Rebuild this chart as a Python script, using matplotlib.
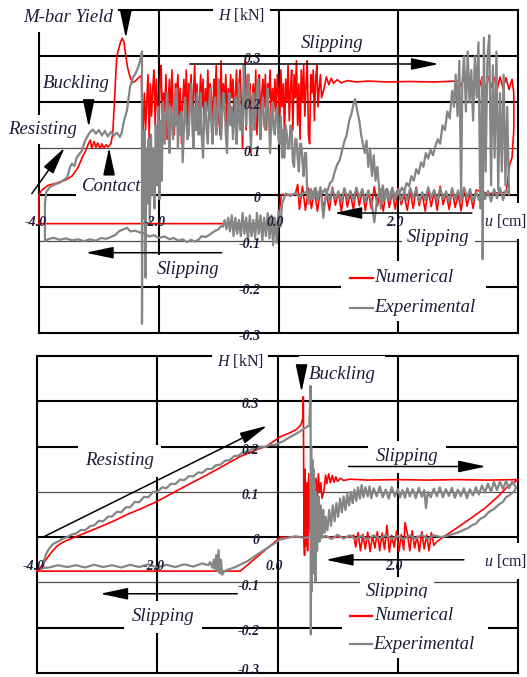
import numpy as np
import matplotlib
matplotlib.use("Agg")
import matplotlib.pyplot as plt
from matplotlib.patches import Rectangle

plt.rcParams["font.family"] = "Liberation Serif"
plt.rcParams["mathtext.fontset"] = "custom"
plt.rcParams["mathtext.it"] = "Liberation Serif:italic"
plt.rcParams["mathtext.rm"] = "Liberation Serif"

RED = "#ff0000"
GREY = "#858585"
INK = "#1c1c38"

X_TICKS = [-4.0, -2.0, 0.0, 2.0]
X_TICK_LABELS = ["-4.0", "-2.0", "0.0", "2.0"]
Y_TICKS = [0.3, 0.2, 0.1, 0.0, -0.1, -0.2, -0.3]
Y_TICK_LABELS = ["0.3", "0.2", "0.1", "0", "-0.1", "-0.2", "-0.3"]

# ---------------- top panel, numerical (u [cm], H [kN]) ----------------
TOP_NUM_LOAD = [
    (-4.00, -0.063), (-4.00, 0.000), (-3.95, 0.010), (-3.85, 0.020), (-3.70, 0.025),
    (-3.55, 0.032), (-3.45, 0.040), (-3.35, 0.058), (-3.28, 0.080), (-3.22, 0.095),
    (-3.17, 0.112), (-3.14, 0.118), (-3.12, 0.100), (-3.08, 0.115), (-3.05, 0.102),
    (-3.02, 0.112), (-2.98, 0.100), (-2.95, 0.110), (-2.92, 0.101), (-2.88, 0.108),
    (-2.85, 0.103), (-2.80, 0.110), (-2.77, 0.130), (-2.74, 0.200), (-2.72, 0.255),
    (-2.70, 0.300), (-2.67, 0.315), (-2.64, 0.330), (-2.61, 0.339), (-2.58, 0.330),
    (-2.55, 0.300), (-2.52, 0.275), (-2.48, 0.255), (-2.44, 0.243), (-2.40, 0.245),
    (-2.36, 0.250), (-2.32, 0.255), (-2.29, 0.258), (-2.27, 0.105),
]
TOP_NUM_NOISE = [
    (-2.24, 0.22), (-2.22, 0.14), (-2.20, 0.20), (-2.18, 0.26), (-2.16, 0.12),
    (-2.14, 0.24), (-2.12, 0.17), (-2.10, 0.23), (-2.08, 0.27), (-2.06, 0.15),
    (-2.04, 0.25), (-2.02, 0.19), (-2.00, 0.13), (-1.98, 0.24), (-1.96, 0.28),
    (-1.94, 0.16), (-1.92, 0.22), (-1.90, 0.18), (-1.88, 0.26), (-1.86, 0.12),
    (-1.84, 0.21), (-1.82, 0.25), (-1.80, 0.15), (-1.78, 0.27), (-1.76, 0.19),
    (-1.74, 0.13), (-1.72, 0.24), (-1.70, 0.22), (-1.68, 0.26), (-1.66, 0.16),
    (-1.64, 0.23), (-1.62, 0.11), (-1.60, 0.20), (-1.58, 0.25), (-1.56, 0.18),
    (-1.54, 0.27), (-1.52, 0.14), (-1.50, 0.24), (-1.48, 0.21), (-1.46, 0.26),
    (-1.44, 0.15), (-1.42, 0.22), (-1.40, 0.28), (-1.38, 0.17), (-1.36, 0.24),
    (-1.34, 0.13), (-1.32, 0.20), (-1.30, 0.26), (-1.28, 0.19), (-1.26, 0.25),
    (-1.24, 0.14), (-1.22, 0.23), (-1.20, 0.18), (-1.18, 0.27), (-1.16, 0.16),
    (-1.14, 0.24), (-1.12, 0.21), (-1.10, 0.12), (-1.08, 0.25), (-1.06, 0.20),
    (-1.04, 0.28), (-1.02, 0.15), (-1.00, 0.22), (-0.98, 0.13), (-0.96, 0.29),
    (-0.94, 0.18), (-0.92, 0.24), (-0.90, 0.20), (-0.88, 0.26), (-0.86, 0.14),
    (-0.84, 0.23), (-0.82, 0.17), (-0.80, 0.26), (-0.78, 0.21), (-0.76, 0.25),
    (-0.74, 0.15), (-0.72, 0.22), (-0.70, 0.27), (-0.68, 0.16), (-0.66, 0.24),
    (-0.64, 0.27), (-0.62, 0.19), (-0.60, 0.10), (-0.58, 0.23), (-0.56, 0.29),
    (-0.54, 0.14), (-0.52, 0.26), (-0.50, 0.20), (-0.48, 0.24), (-0.46, 0.09),
    (-0.44, 0.21), (-0.42, 0.24), (-0.40, 0.17), (-0.38, 0.27), (-0.36, 0.13),
    (-0.34, 0.23), (-0.32, 0.26), (-0.30, 0.15), (-0.28, 0.22), (-0.26, 0.25),
    (-0.24, 0.19), (-0.22, 0.26), (-0.20, 0.14), (-0.18, 0.24), (-0.16, 0.21),
    (-0.14, 0.27), (-0.12, 0.16), (-0.10, 0.23), (-0.08, 0.18), (-0.06, 0.25),
    (-0.04, 0.17), (-0.02, 0.26), (0.00, 0.22), (0.02, 0.15), (0.04, 0.27),
    (0.06, 0.19), (0.08, 0.24), (0.10, 0.13), (0.12, 0.25), (0.14, 0.20),
    (0.16, 0.28), (0.18, 0.16), (0.20, 0.23), (0.22, 0.27), (0.24, 0.14),
    (0.26, 0.26), (0.28, 0.21), (0.30, 0.29), (0.32, 0.15), (0.34, 0.24),
    (0.36, 0.12), (0.38, 0.27), (0.40, 0.20), (0.42, 0.28), (0.44, 0.17),
    (0.46, 0.24), (0.48, 0.29), (0.50, 0.13), (0.52, 0.11), (0.54, 0.26),
    (0.56, 0.22), (0.58, 0.27), (0.60, 0.16), (0.62, 0.25), (0.64, 0.28),
    (0.66, 0.19), (0.68, 0.23), (0.70, 0.26), (0.72, 0.21),
    (0.76, 0.23), (0.80, 0.255), (0.84, 0.238), (0.88, 0.252), (0.92, 0.241),
    (0.98, 0.249), (1.05, 0.242), (1.15, 0.247), (1.30, 0.244), (1.50, 0.246),
    (1.80, 0.244), (2.20, 0.245), (2.60, 0.244), (3.00, 0.246),
]
TOP_NUM_END = [
    (3.05, 0.235), (3.10, 0.255), (3.15, 0.232), (3.20, 0.254), (3.25, 0.236),
    (3.30, 0.252), (3.35, 0.230), (3.40, 0.255), (3.45, 0.228), (3.50, 0.256),
    (3.55, 0.232), (3.60, 0.254), (3.65, 0.226), (3.70, 0.255), (3.75, 0.230),
    (3.80, 0.253), (3.85, 0.228), (3.90, 0.250), (3.93, 0.220), (3.93, 0.140),
    (3.90, 0.080), (3.86, 0.065), (3.83, 0.030), (3.80, 0.005), (3.50, 0.002),
]
TOP_NUM_BACK = [
    (3.30, 0.010), (3.25, -0.030), (3.20, 0.005), (3.15, -0.025), (3.10, 0.015),
    (3.05, -0.035), (3.00, 0.000), (2.95, -0.028), (2.90, 0.012), (2.85, -0.032),
    (2.80, 0.004), (2.75, -0.022), (2.70, 0.018), (2.65, -0.034), (2.60, 0.006),
    (2.55, -0.026), (2.50, 0.010), (2.45, -0.036), (2.40, 0.002), (2.35, -0.024),
    (2.30, 0.016), (2.25, -0.030), (2.20, 0.008), (2.15, -0.034), (2.10, 0.000),
    (2.05, -0.022), (2.00, 0.014), (1.95, -0.032), (1.90, 0.006), (1.85, -0.028),
    (1.80, 0.012), (1.75, -0.036), (1.70, 0.003), (1.65, -0.025), (1.60, 0.017),
    (1.55, -0.031), (1.50, 0.007), (1.45, -0.035), (1.40, 0.011), (1.35, -0.024),
    (1.30, 0.015), (1.25, -0.033), (1.20, 0.004), (1.15, -0.027), (1.10, 0.013),
    (1.05, -0.037), (1.00, 0.006), (0.95, -0.023), (0.90, 0.016), (0.85, -0.034),
    (0.80, 0.002), (0.75, -0.029), (0.70, 0.012), (0.65, -0.036), (0.60, 0.008),
    (0.55, -0.030), (0.50, 0.014), (0.45, -0.034), (0.40, 0.018), (0.35, -0.032),
    (0.32, 0.022), (0.28, 0.000), (0.05, 0.000), (0.01, -0.040), (-0.01, -0.063),
    (-4.00, -0.063),
]

# ---------------- top panel, experimental ----------------
TOP_EXP_LOAD = [
    (-3.90, -0.100), (-3.90, -0.020), (-3.88, 0.005), (-3.82, 0.016), (-3.74, 0.022),
    (-3.65, 0.026), (-3.53, 0.037), (-3.48, 0.060), (-3.45, 0.067), (-3.41, 0.062),
    (-3.37, 0.080), (-3.28, 0.096), (-3.23, 0.117), (-3.15, 0.135), (-3.10, 0.141),
    (-3.05, 0.132), (-3.00, 0.140), (-2.95, 0.128), (-2.90, 0.138), (-2.85, 0.126),
    (-2.80, 0.136), (-2.75, 0.128), (-2.70, 0.134), (-2.65, 0.125), (-2.62, 0.133),
    (-2.58, 0.160), (-2.53, 0.183), (-2.48, 0.233), (-2.43, 0.254), (-2.39, 0.262),
    (-2.35, 0.274), (-2.31, 0.290), (-2.28, 0.310),
]
TOP_EXP_NOISE = [
    (-2.28, -0.28), (-2.27, 0.12), (-2.25, -0.05), (-2.24, 0.14), (-2.22, -0.18),
    (-2.21, 0.10), (-2.19, -0.02), (-2.17, 0.12), (-2.15, -0.06), (-2.13, 0.13),
    (-2.11, 0.00), (-2.09, 0.10), (-2.07, -0.03), (-2.05, 0.15), (-2.03, 0.02),
    (-2.01, 0.19), (-1.99, -0.01), (-1.97, 0.16), (-1.95, 0.03), (-1.93, 0.20),
    (-1.90, 0.11), (-1.88, 0.18), (-1.86, 0.22), (-1.84, 0.14), (-1.82, 0.09),
    (-1.80, 0.19), (-1.78, 0.16), (-1.76, 0.12), (-1.74, 0.21), (-1.72, 0.15),
    (-1.70, 0.23), (-1.68, 0.10), (-1.66, 0.17), (-1.64, 0.13), (-1.62, 0.18),
    (-1.60, 0.07), (-1.58, 0.14), (-1.56, 0.21), (-1.54, 0.16), (-1.52, 0.12),
    (-1.50, 0.13), (-1.48, 0.20), (-1.46, 0.24), (-1.44, 0.15), (-1.42, 0.10),
    (-1.40, 0.19), (-1.38, 0.14), (-1.36, 0.22), (-1.34, 0.17), (-1.32, 0.13),
    (-1.30, 0.22), (-1.28, 0.12), (-1.26, 0.08), (-1.24, 0.17), (-1.22, 0.20),
    (-1.20, 0.14), (-1.18, 0.11), (-1.16, 0.19), (-1.14, 0.23), (-1.12, 0.15),
    (-1.10, 0.11), (-1.08, 0.18), (-1.06, 0.21), (-1.04, 0.13), (-1.02, 0.16),
    (-1.00, 0.25), (-0.98, 0.19), (-0.96, 0.12), (-0.94, 0.17), (-0.92, 0.22),
    (-0.90, 0.20), (-0.88, 0.13), (-0.86, 0.09), (-0.84, 0.18), (-0.82, 0.22),
    (-0.80, 0.15), (-0.78, 0.19), (-0.76, 0.12), (-0.74, 0.16), (-0.72, 0.21),
    (-0.70, 0.11), (-0.68, 0.17), (-0.66, 0.24), (-0.64, 0.14), (-0.62, 0.19),
    (-0.60, 0.13), (-0.58, 0.28), (-0.56, 0.20), (-0.54, 0.15), (-0.52, 0.23),
    (-0.50, 0.26), (-0.48, 0.17), (-0.46, 0.10), (-0.44, 0.19), (-0.42, 0.22),
    (-0.40, 0.14), (-0.38, 0.18), (-0.36, 0.23), (-0.34, 0.25), (-0.32, 0.16),
    (-0.30, 0.12), (-0.28, 0.19), (-0.26, 0.21), (-0.24, 0.15), (-0.22, 0.14),
    (-0.20, 0.20), (-0.18, 0.23), (-0.16, 0.17), (-0.14, 0.09), (-0.12, 0.16),
    (-0.10, 0.20), (-0.08, 0.14), (-0.06, 0.13), (-0.04, 0.18), (-0.02, 0.19),
    (0.00, 0.12), (0.02, 0.11), (0.04, 0.17), (0.06, 0.08), (0.08, 0.14),
    (0.10, 0.08), (0.12, 0.15), (0.14, 0.13), (0.16, 0.10), (0.18, 0.10),
    (0.20, 0.15), (0.22, 0.14), (0.24, 0.07), (0.26, 0.06), (0.28, 0.12),
    (0.30, 0.12), (0.32, 0.08), (0.34, 0.05), (0.36, 0.11), (0.38, 0.11),
    (0.40, 0.07), (0.42, 0.04), (0.44, 0.09), (0.46, 0.09),
    (0.48, 0.00), (0.50, -0.02),
]
TOP_EXP_FORWARD = [
    (0.54, 0.012), (0.58, -0.010), (0.62, 0.015), (0.66, -0.008), (0.70, 0.010),
    (0.74, 0.004), (0.78, 0.012), (0.82, 0.008), (0.86, 0.025), (0.90, 0.030),
    (0.94, 0.050), (0.98, 0.065), (1.02, 0.074), (1.06, 0.095), (1.10, 0.115),
    (1.14, 0.130), (1.18, 0.160), (1.22, 0.176), (1.26, 0.200), (1.28, 0.207),
    (1.31, 0.185), (1.35, 0.160), (1.38, 0.130), (1.41, 0.110), (1.44, 0.090),
    (1.47, 0.117), (1.50, 0.060), (1.53, 0.100), (1.56, 0.040), (1.59, 0.085),
    (1.62, 0.030), (1.65, 0.060), (1.68, 0.015), (1.71, -0.030), (1.74, 0.020),
    (1.78, -0.010), (1.82, 0.012), (1.86, -0.008), (1.90, 0.010), (1.94, -0.012),
    (1.98, 0.008), (2.02, 0.002), (2.06, 0.015), (2.10, 0.008), (2.14, 0.025),
    (2.18, 0.018), (2.22, 0.040), (2.26, 0.030), (2.30, 0.055), (2.34, 0.045),
    (2.38, 0.070), (2.42, 0.060), (2.46, 0.090), (2.50, 0.078), (2.54, 0.098),
    (2.58, 0.085), (2.62, 0.105), (2.66, 0.120), (2.70, 0.110), (2.74, 0.150),
    (2.78, 0.140), (2.82, 0.180), (2.86, 0.165), (2.90, 0.225), (2.93, 0.190),
    (2.96, 0.260), (2.99, 0.170), (3.02, 0.290), (3.05, 0.000), (3.07, 0.240),
    (3.10, 0.300), (3.13, 0.180), (3.16, 0.310), (3.19, 0.200), (3.22, 0.270),
    (3.25, 0.160), (3.28, 0.300), (3.31, 0.210), (3.34, 0.330), (3.37, -0.030),
    (3.40, 0.250), (3.41, -0.140), (3.43, 0.340), (3.46, 0.050), (3.49, 0.300),
    (3.52, 0.345), (3.55, 0.020), (3.58, 0.280), (3.61, 0.080), (3.64, 0.310),
    (3.67, 0.010), (3.70, 0.220), (3.73, 0.050), (3.76, 0.260), (3.79, 0.020),
    (3.82, 0.190), (3.85, 0.000),
]
TOP_EXP_BACK = [
    (3.80, 0.010), (3.75, -0.012), (3.70, 0.014), (3.65, -0.008), (3.60, 0.012),
    (3.55, -0.015), (3.50, 0.008), (3.45, -0.010), (3.40, 0.016), (3.35, -0.012),
    (3.30, 0.006), (3.25, -0.016), (3.20, 0.012), (3.15, -0.006), (3.10, 0.015),
    (3.05, -0.013), (3.00, 0.009), (2.95, -0.010), (2.90, 0.014), (2.85, -0.015),
    (2.80, 0.007), (2.75, -0.009), (2.70, 0.013), (2.65, -0.014), (2.60, 0.010),
    (2.55, -0.008), (2.50, 0.016), (2.45, -0.012), (2.40, 0.005), (2.35, -0.016),
    (2.30, 0.012), (2.25, -0.007), (2.20, 0.014), (2.15, -0.012), (2.10, 0.008),
    (2.05, -0.014), (2.00, 0.011), (1.95, -0.009), (1.90, 0.015), (1.85, -0.013),
    (1.80, 0.006), (1.75, -0.015), (1.70, 0.012), (1.65, -0.008), (1.60, -0.060),
    (1.55, -0.012), (1.50, 0.009), (1.45, -0.016), (1.40, 0.012), (1.35, -0.006),
    (1.30, 0.015), (1.25, -0.013), (1.20, 0.008), (1.15, -0.010), (1.10, 0.014),
    (1.05, -0.015), (1.00, 0.007), (0.95, -0.009), (0.90, 0.013), (0.85, -0.014),
    (0.80, 0.010), (0.75, -0.050), (0.70, 0.016), (0.65, -0.012), (0.60, 0.012),
    (0.55, -0.010), (0.50, 0.006), (0.42, 0.004), (0.35, -0.004), (0.28, 0.003),
    (0.20, -0.003), (0.12, 0.002), (0.06, -0.020),
]
TOP_EXP_SLIP = [
    (0.03, -0.070), (0.00, -0.035), (-0.03, -0.105), (-0.06, -0.050), (-0.09, -0.110),
    (-0.12, -0.045), (-0.15, -0.095), (-0.18, -0.040), (-0.21, -0.090), (-0.24, -0.050),
    (-0.27, -0.100), (-0.30, -0.045), (-0.33, -0.085), (-0.36, -0.040), (-0.39, -0.095),
    (-0.42, -0.055), (-0.45, -0.090), (-0.48, -0.045), (-0.51, -0.100), (-0.54, -0.050),
    (-0.57, -0.085), (-0.60, -0.040), (-0.63, -0.090), (-0.66, -0.055), (-0.69, -0.085),
    (-0.72, -0.050), (-0.75, -0.090), (-0.78, -0.045), (-0.81, -0.080), (-0.84, -0.050),
    (-0.87, -0.075), (-0.90, -0.055), (-0.93, -0.070), (-0.96, -0.068), (-1.00, -0.075),
    (-1.05, -0.078), (-1.10, -0.082), (-1.16, -0.088), (-1.22, -0.092), (-1.28, -0.090),
    (-1.34, -0.098), (-1.40, -0.102), (-1.46, -0.098), (-1.53, -0.103), (-1.60, -0.097),
    (-1.67, -0.100), (-1.75, -0.094), (-1.82, -0.097), (-1.90, -0.091), (-2.00, -0.094),
    (-2.08, -0.088), (-2.16, -0.091), (-2.24, -0.084), (-2.32, -0.082), (-2.40, -0.078),
    (-2.47, -0.080), (-2.53, -0.072), (-2.60, -0.076), (-2.66, -0.079), (-2.72, -0.087),
    (-2.80, -0.092), (-2.88, -0.096), (-2.96, -0.094), (-3.05, -0.100), (-3.15, -0.097),
    (-3.25, -0.101), (-3.35, -0.097), (-3.45, -0.099), (-3.55, -0.095), (-3.65, -0.098),
    (-3.75, -0.094), (-3.83, -0.096), (-3.90, -0.100),
]

# ---------------- bottom panel, numerical ----------------
BOT_NUM_LOAD = [
    (-4.00, -0.075), (-3.95, -0.068), (-3.88, -0.055), (-3.83, -0.046), (-3.75, -0.032),
    (-3.67, -0.020), (-3.58, -0.012), (-3.50, -0.007), (-3.37, 0.000), (-3.20, 0.009),
    (-3.00, 0.020), (-2.75, 0.034), (-2.50, 0.050), (-2.25, 0.064), (-2.00, 0.079),
    (-1.75, 0.097), (-1.50, 0.115), (-1.25, 0.132), (-1.00, 0.150), (-0.80, 0.165),
    (-0.62, 0.178), (-0.40, 0.190), (-0.17, 0.202), (0.05, 0.222), (0.20, 0.230),
    (0.32, 0.238), (0.39, 0.248), (0.42, 0.262), (0.43, 0.310), (0.44, 0.000),
]
BOT_NUM_NOISE = [
    (0.45, -0.040), (0.46, 0.150), (0.47, -0.020), (0.49, 0.120), (0.50, -0.030),
    (0.52, 0.140), (0.54, 0.010), (0.56, 0.130), (0.58, 0.030), (0.60, 0.145),
    (0.62, 0.060), (0.64, 0.130), (0.66, 0.080), (0.68, 0.140), (0.70, 0.100),
    (0.72, 0.120), (0.74, 0.086), (0.77, 0.100), (0.80, 0.137), (0.82, 0.118),
    (0.85, 0.140), (0.88, 0.120), (0.91, 0.136), (0.94, 0.121), (0.97, 0.133),
    (1.00, 0.123), (1.05, 0.130), (1.10, 0.125), (1.20, 0.128), (1.50, 0.126),
    (2.00, 0.127), (2.50, 0.126), (3.00, 0.127), (3.50, 0.126), (4.00, 0.127),
]
BOT_NUM_BACK = [
    (3.83, 0.112), (3.67, 0.090), (3.45, 0.064), (3.22, 0.042), (2.98, 0.020),
    (2.80, 0.004), (2.65, -0.010), (2.60, -0.018), (2.56, 0.010), (2.52, -0.030),
    (2.48, 0.005), (2.44, -0.026), (2.40, 0.012), (2.36, -0.032), (2.32, 0.002),
    (2.28, -0.024), (2.24, 0.014), (2.20, -0.030), (2.16, 0.008), (2.12, 0.032),
    (2.10, -0.028), (2.06, 0.006), (2.02, -0.031), (1.98, 0.013), (1.94, -0.022),
    (1.90, 0.004), (1.86, -0.033), (1.82, 0.026), (1.78, -0.027), (1.74, 0.009),
    (1.70, -0.030), (1.66, 0.012), (1.62, -0.024), (1.58, 0.003), (1.54, -0.032),
    (1.50, 0.011), (1.46, -0.026), (1.42, 0.006), (1.38, -0.030), (1.34, 0.010),
    (1.30, -0.022), (1.27, 0.004), (1.20, 0.000), (0.05, 0.000), (-0.62, -0.075),
    (-4.00, -0.075),
]

# ---------------- bottom panel, experimental ----------------
BOT_EXP_LOAD = [
    (-3.90, -0.068), (-3.88, -0.050), (-3.85, -0.038), (-3.82, -0.030), (-3.78, -0.022),
    (-3.72, -0.014), (-3.65, -0.010), (-3.58, -0.004), (-3.50, 0.000), (-3.42, 0.006),
    (-3.35, 0.008), (-3.27, 0.016), (-3.20, 0.015), (-3.12, 0.024), (-3.05, 0.026),
    (-2.97, 0.036), (-2.90, 0.035), (-2.82, 0.045), (-2.75, 0.046), (-2.67, 0.056),
    (-2.60, 0.055), (-2.52, 0.066), (-2.45, 0.066), (-2.37, 0.078), (-2.30, 0.077),
    (-2.22, 0.089), (-2.15, 0.088), (-2.07, 0.100), (-2.00, 0.100), (-1.92, 0.110),
    (-1.85, 0.108), (-1.77, 0.118), (-1.70, 0.117), (-1.62, 0.127), (-1.55, 0.126),
    (-1.47, 0.135), (-1.40, 0.134), (-1.32, 0.143), (-1.25, 0.142), (-1.17, 0.151),
    (-1.10, 0.150), (-1.02, 0.159), (-0.95, 0.160), (-0.87, 0.169), (-0.80, 0.170),
    (-0.72, 0.179), (-0.65, 0.180), (-0.57, 0.188), (-0.50, 0.188), (-0.42, 0.195),
    (-0.35, 0.194), (-0.27, 0.200), (-0.20, 0.199), (-0.12, 0.204), (-0.05, 0.203),
    (0.03, 0.208), (0.10, 0.212), (0.18, 0.219), (0.25, 0.224), (0.32, 0.229),
    (0.40, 0.236), (0.47, 0.242), (0.53, 0.247), (0.55, 0.334),
]
BOT_EXP_NOISE = [
    (0.555, -0.215), (0.56, 0.200), (0.57, -0.120), (0.58, 0.170), (0.59, -0.080),
    (0.60, 0.150), (0.61, -0.050), (0.62, 0.120), (0.63, -0.100), (0.64, 0.100),
    (0.66, -0.030), (0.68, 0.090), (0.70, -0.010), (0.72, 0.070), (0.74, 0.000),
    (0.76, 0.060), (0.78, 0.010), (0.80, 0.045), (0.83, 0.015), (0.86, 0.060),
    (0.89, 0.025), (0.92, 0.070), (0.95, 0.035), (0.98, 0.075), (1.01, 0.045),
    (1.04, 0.085), (1.07, 0.055), (1.10, 0.090), (1.13, 0.060), (1.16, 0.095),
    (1.19, 0.070), (1.22, 0.100), (1.25, 0.075), (1.28, 0.105), (1.31, 0.080),
    (1.34, 0.110), (1.37, 0.085), (1.40, 0.115), (1.43, 0.088), (1.46, 0.110),
    (1.50, 0.090), (1.53, 0.112), (1.56, 0.086), (1.60, 0.108), (1.65, 0.090),
    (1.70, 0.112), (1.75, 0.088), (1.80, 0.105), (1.85, 0.085), (1.90, 0.110),
    (1.95, 0.090), (2.00, 0.106), (2.04, 0.088), (2.08, 0.104), (2.12, 0.087),
    (2.16, 0.108), (2.20, 0.090), (2.25, 0.106), (2.30, 0.086), (2.35, 0.109),
    (2.40, 0.089), (2.44, 0.104), (2.47, 0.064), (2.50, 0.100), (2.55, 0.088),
    (2.60, 0.107), (2.65, 0.090), (2.70, 0.110), (2.75, 0.088), (2.80, 0.106),
    (2.85, 0.091), (2.90, 0.109), (2.95, 0.087), (3.00, 0.105), (3.05, 0.090),
    (3.10, 0.108), (3.15, 0.086), (3.20, 0.106), (3.25, 0.092), (3.30, 0.110),
    (3.35, 0.094), (3.40, 0.114), (3.45, 0.098), (3.50, 0.118), (3.55, 0.100),
    (3.60, 0.122), (3.65, 0.104), (3.70, 0.123), (3.75, 0.106), (3.80, 0.124),
    (3.85, 0.108), (3.90, 0.122), (3.97, 0.110),
]
BOT_EXP_BACK = [
    (3.93, 0.100), (3.85, 0.092), (3.80, 0.088), (3.75, 0.078), (3.68, 0.072),
    (3.60, 0.062), (3.52, 0.056), (3.45, 0.046), (3.37, 0.040), (3.30, 0.030),
    (3.23, 0.026), (3.17, 0.020), (3.08, 0.015), (3.00, 0.010), (2.92, 0.007),
    (2.85, 0.004), (2.72, 0.000), (2.60, 0.004), (2.50, -0.004), (2.40, 0.005),
    (2.30, -0.003), (2.20, 0.004), (2.10, -0.005), (2.00, 0.003), (1.90, -0.004),
    (1.80, 0.005), (1.70, -0.003), (1.60, 0.004), (1.50, -0.005), (1.40, 0.003),
    (1.30, -0.004), (1.20, 0.004), (1.10, -0.003), (1.00, 0.005), (0.90, -0.004),
    (0.80, 0.003), (0.70, -0.004), (0.60, 0.003), (0.45, -0.002), (0.30, 0.002),
    (0.15, -0.002), (0.05, -0.005), (-0.10, -0.018), (-0.30, -0.035), (-0.50, -0.053),
    (-0.70, -0.066), (-0.83, -0.072), (-0.88, -0.075), (-0.92, -0.083), (-0.94, -0.050),
    (-0.96, -0.080), (-0.98, -0.029), (-1.00, -0.075), (-1.02, -0.040), (-1.04, -0.070),
    (-1.06, -0.050), (-1.08, -0.068), (-1.12, -0.055), (-1.15, -0.062), (-1.25, -0.058),
    (-1.40, -0.065), (-1.55, -0.060), (-1.70, -0.066), (-1.85, -0.061), (-2.00, -0.067),
    (-2.15, -0.060), (-2.30, -0.066), (-2.45, -0.061), (-2.60, -0.067), (-2.75, -0.062),
    (-2.90, -0.066), (-3.05, -0.061), (-3.20, -0.067), (-3.35, -0.062), (-3.50, -0.066),
    (-3.65, -0.062), (-3.80, -0.067), (-3.90, -0.068),
]

# ---------------- annotations ----------------
TOP_ARROWS = [
    ((-4.12, 0.002), (-3.57, 0.102)),
    ((-3.17, 0.200), (-3.17, 0.146)),
    ((-2.83, 0.052), (-2.83, 0.102)),
    ((-2.55, 0.385), (-2.55, 0.339)),
    ((-1.48, 0.283), (2.68, 0.283)),
    ((3.23, -0.040), (0.93, -0.040)),
    ((-0.95, -0.126), (-3.22, -0.126)),
]
BOT_ARROWS = [
    ((0.40, 0.378), (0.40, 0.320)),
    ((-3.87, 0.002), (-0.17, 0.246)),
    ((1.18, 0.156), (3.47, 0.156)),
    ((3.10, -0.050), (0.80, -0.050)),
    ((-0.67, -0.125), (-2.95, -0.125)),
]
TOP_LABELS = [
    ("M-bar Yield", -4.27, 0.383, 0.3),
    ("Buckling", -3.93, 0.241, 0.08),
    ("Resisting", -4.52, 0.141, 0.3),
    ("Contact", -3.28, 0.017, 0.3),
    ("Slipping", 0.38, 0.328, 0.2),
    ("Slipping", 2.15, -0.094, 0.3),
    ("Slipping", -2.03, -0.163, 0.35),
]
BOT_LABELS = [
    ("Buckling", 0.52, 0.360, 0.5),
    ("Resisting", -3.20, 0.169, 0.4),
    ("Slipping", 1.63, 0.178, 0.4),
    ("Slipping", 1.47, -0.119, 0.3),
    ("Slipping", -2.42, -0.176, 0.4),
]


def xy(*segments):
    pts = np.array([p for seg in segments for p in seg])
    return pts[:, 0], pts[:, 1]


def panel_draw(ax, num, exp, arrows, labels, legend_y, legend_box, low_shift):
    ax.set_xlim(-4, 4)
    ax.set_ylim(-0.3, 0.4)
    ax.set_xticks([])
    ax.set_yticks([])
    for s in ax.spines.values():
        s.set_linewidth(1.5)
        s.set_zorder(1.5)
    for y in [0.3, 0.2, 0.0, -0.2]:
        ax.axhline(y, color="black", lw=1.5, zorder=1)
    for y in [0.1, -0.1]:
        ax.axhline(y, color="#4d4d4d", lw=0.9, zorder=1)
    for x in [-2.0, 0.0, 2.0]:
        ax.axvline(x, color="black", lw=1.5, zorder=1)

    for text, x, y, pad in labels:
        ax.text(x, y, text, fontsize=13.5, style="italic", color=INK,
                ha="left", va="center", zorder=3,
                bbox=dict(facecolor="white", edgecolor="none",
                          boxstyle=f"square,pad={pad}"))
    ax.text(-0.23, 0.389, "$H$ [kN]", fontsize=11.5, color=INK, ha="right",
            va="center", zorder=3,
            bbox=dict(facecolor="white", edgecolor="none", boxstyle="square,pad=0.3"))
    ax.text(3.43, legend_y[2], "$u$ [cm]", fontsize=11.5, color=INK, ha="left",
            va="center", zorder=3, clip_on=False,
            bbox=dict(facecolor="white", edgecolor="none", boxstyle="square,pad=0.55"))
    ax.add_patch(Rectangle(legend_box[:2], legend_box[2], legend_box[3],
                           facecolor="white", edgecolor="none", zorder=3))

    ax.plot(*xy(*num), color=RED, lw=1.2, zorder=4, clip_on=False)
    ax.plot(*xy(*exp), color=GREY, lw=1.6, zorder=4.5, clip_on=False)

    for start, end in arrows:
        ax.annotate("", xy=end, xytext=start, zorder=5, annotation_clip=False,
                    arrowprops=dict(arrowstyle="-|>,head_length=0.85,head_width=0.18",
                                    mutation_scale=20, color="black", lw=1.1,
                                    shrinkA=0, shrinkB=0))

    for v, lab in zip(Y_TICKS, Y_TICK_LABELS):
        dy = low_shift if v == -0.3 else -0.008
        ax.text(-0.3, v + dy, lab, fontsize=10, style="italic", weight="bold",
                color=INK, ha="right", va="center", zorder=6, clip_on=False)
    for v, lab in zip(X_TICKS, X_TICK_LABELS):
        ax.text(v - 0.06, legend_y[3], lab, fontsize=10, style="italic",
                weight="bold", color=INK, ha="center", va="center", zorder=6)

    for y, color, name in [(legend_y[0], RED, "Numerical"),
                           (legend_y[1], GREY, "Experimental")]:
        ax.plot([1.2, 1.57], [y, y], color=color, lw=1.6, zorder=6)
        ax.text(1.6, y, name, fontsize=13.5, style="italic", color=INK,
                ha="left", va="center", zorder=6)


fig = plt.figure(figsize=(5.27, 6.77), dpi=100)
ax_top = fig.add_axes([39 / 527, 1 - 333 / 677, 479 / 527, 323 / 677])
ax_bot = fig.add_axes([37 / 527, 1 - 673 / 677, 481 / 527, 317 / 677])

panel_draw(ax_top,
           [TOP_NUM_LOAD, TOP_NUM_NOISE, TOP_NUM_END, TOP_NUM_BACK],
           [TOP_EXP_LOAD, TOP_EXP_NOISE, TOP_EXP_FORWARD, TOP_EXP_BACK, TOP_EXP_SLIP],
           TOP_ARROWS, TOP_LABELS, (-0.180, -0.245, -0.057, -0.061),
           (1.05, -0.274, 2.42, 0.131), -0.008)
panel_draw(ax_bot,
           [BOT_NUM_LOAD, BOT_NUM_NOISE, BOT_NUM_BACK],
           [BOT_EXP_LOAD, BOT_EXP_NOISE, BOT_EXP_BACK],
           BOT_ARROWS, BOT_LABELS, (-0.174, -0.237, -0.053, -0.064),
           (1.08, -0.266, 2.42, 0.132), 0.006)

fig.savefig("out.png", dpi=100)
